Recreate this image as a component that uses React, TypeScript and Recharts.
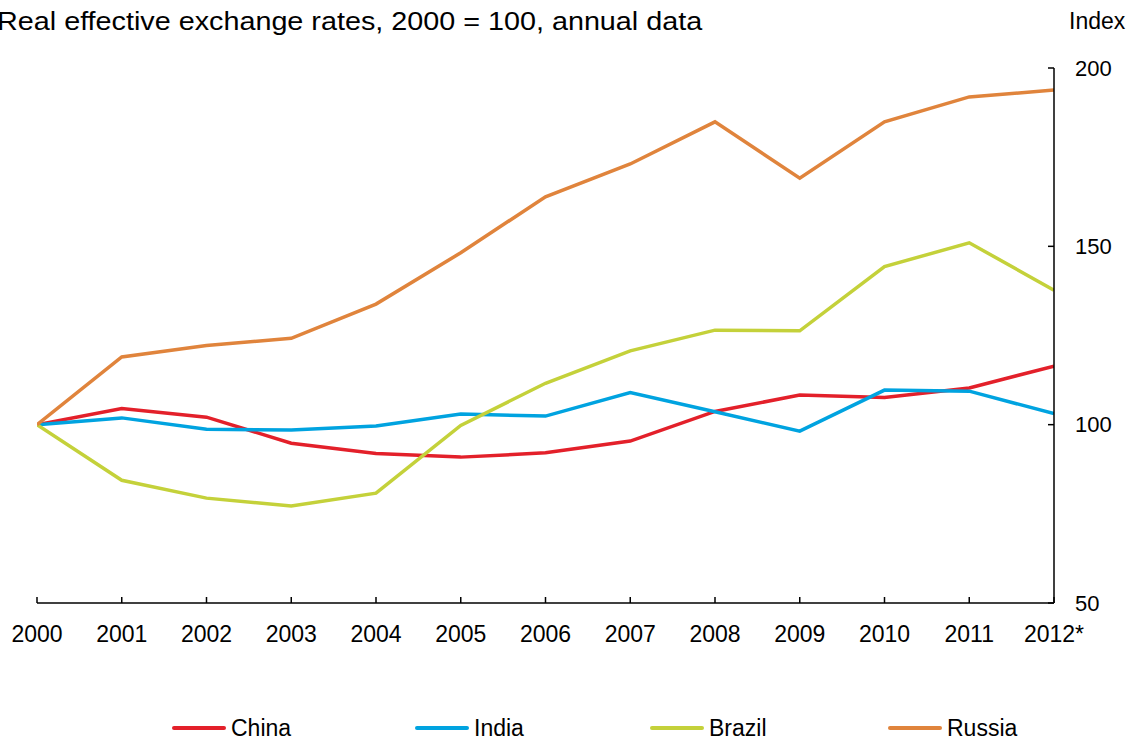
import React from 'react'
import { LineChart, Line, XAxis, YAxis } from 'recharts'

const years = [2000, 2001, 2002, 2003, 2004, 2005, 2006, 2007, 2008, 2009, 2010, 2011, 2012]
const yearLabels = ['2000', '2001', '2002', '2003', '2004', '2005', '2006', '2007', '2008', '2009', '2010', '2011', '2012*']

const china = [100, 104.5, 102.1, 94.8, 91.9, 90.9, 92.1, 95.4, 103.7, 108.3, 107.6, 110.3, 116.4]
const india = [100, 101.9, 98.7, 98.5, 99.6, 103.0, 102.4, 109.0, 103.6, 98.2, 109.7, 109.4, 103.1]
const brazil = [100, 84.4, 79.4, 77.2, 80.8, 99.8, 111.6, 120.7, 126.5, 126.3, 144.3, 151.0, 137.7]
const russia = [100, 119.0, 122.2, 124.2, 133.8, 148.2, 163.9, 173.1, 184.9, 169.1, 184.9, 191.9, 193.8]

const yTicks = [50, 100, 150, 200]

const series = [
  { key: 'china', name: 'China', color: '#e3202a' },
  { key: 'india', name: 'India', color: '#00a3e0' },
  { key: 'brazil', name: 'Brazil', color: '#c4d13a' },
  { key: 'russia', name: 'Russia', color: '#e0843c' },
]

const data = years.map((year, i) => ({
  year,
  china: china[i],
  india: india[i],
  brazil: brazil[i],
  russia: russia[i],
}))

const FONT = '"Liberation Sans", Arial, sans-serif'
const legendWidths = [243, 235, 238, 200]
const TICK = 6
const X_MARGIN = 23
const Y_MARGIN = 21

// ticks point into the plot, so draw them ourselves
const XTick = (props: any) => {
  const { x, y, payload } = props
  const axisY = y - X_MARGIN
  return (
    <g>
      <line x1={x} x2={x} y1={axisY} y2={axisY - TICK} stroke="#000" strokeWidth={1.5} />
      <text x={x} y={y} dy="0.71em" textAnchor="middle" fontSize={23} fontFamily={FONT} fill="#000">
        {yearLabels[years.indexOf(payload.value)]}
      </text>
    </g>
  )
}

const RightTick = (props: any) => {
  const { x, y, payload } = props
  const axisX = x - Y_MARGIN
  return (
    <g>
      <line x1={axisX} x2={axisX - TICK} y1={y} y2={y} stroke="#000" strokeWidth={1.5} />
      <text x={x} y={y} dy="0.355em" textAnchor="start" fontSize={22} fontFamily={FONT} fill="#000">
        {payload.value}
      </text>
    </g>
  )
}

const LeftTick = (props: any) => {
  const { x, y } = props
  return <line x1={x} x2={x + TICK} y1={y} y2={y} stroke="#000" strokeWidth={1.5} />
}

export default function App() {
  return (
    <div style={{ position: 'absolute', left: 0, top: 0, width: 1130, height: 740, background: '#fff', overflow: 'hidden', fontFamily: FONT }}>
      <div style={{ position: 'absolute', right: 428, top: 5, fontSize: 25, lineHeight: '32px', whiteSpace: 'nowrap', color: '#000', transform: 'scaleX(1.15)', transformOrigin: 'right center' }}>
        Real effective exchange rates, 2000 = 100, annual data
      </div>
      <div style={{ position: 'absolute', left: 1069, top: 6, fontSize: 23, lineHeight: '30px', color: '#000' }}>
        Index
      </div>

      <LineChart width={1130} height={740} data={data} margin={{ top: 68, right: 0, bottom: 0, left: 37 }}>
        <XAxis
          dataKey="year"
          type="number"
          domain={[2000, 2012]}
          ticks={years}
          height={137}
          tickSize={0}
          tickMargin={X_MARGIN}
          tickLine={false}
          tick={<XTick />}
          stroke="#000"
          strokeWidth={1.5}
          interval={0}
          allowDataOverflow
        />
        <YAxis
          yAxisId="left"
          orientation="left"
          width={0}
          domain={[50, 200]}
          ticks={[200]}
          tickSize={0}
          tickMargin={0}
          tickLine={false}
          tick={<LeftTick />}
          stroke="#000"
          strokeWidth={1.5}
          allowDataOverflow
        />
        <YAxis
          yAxisId="right"
          orientation="right"
          width={76}
          domain={[50, 200]}
          ticks={yTicks}
          tickSize={0}
          tickMargin={Y_MARGIN}
          tickLine={false}
          tick={<RightTick />}
          stroke="#000"
          strokeWidth={1.5}
          allowDataOverflow
        />
        {series.map(s => (
          <Line
            key={s.key}
            yAxisId="right"
            dataKey={s.key}
            name={s.name}
            stroke={s.color}
            strokeWidth={3.5}
            dot={false}
            activeDot={false}
            type="linear"
            isAnimationActive={false}
          />
        ))}
      </LineChart>

      <div style={{ position: 'absolute', left: 172, top: 711, display: 'flex', alignItems: 'center', height: 34 }}>
        {series.map((s, i) => (
          <div key={s.key} style={{ width: legendWidths[i], display: 'flex', alignItems: 'center' }}>
            <div style={{ width: 54, height: 4, borderRadius: 2, background: s.color }} />
            <span style={{ fontSize: 23, lineHeight: '26px', color: '#000', marginLeft: 5, whiteSpace: 'nowrap' }}>
              {s.name}
            </span>
          </div>
        ))}
      </div>
    </div>
  )
}
